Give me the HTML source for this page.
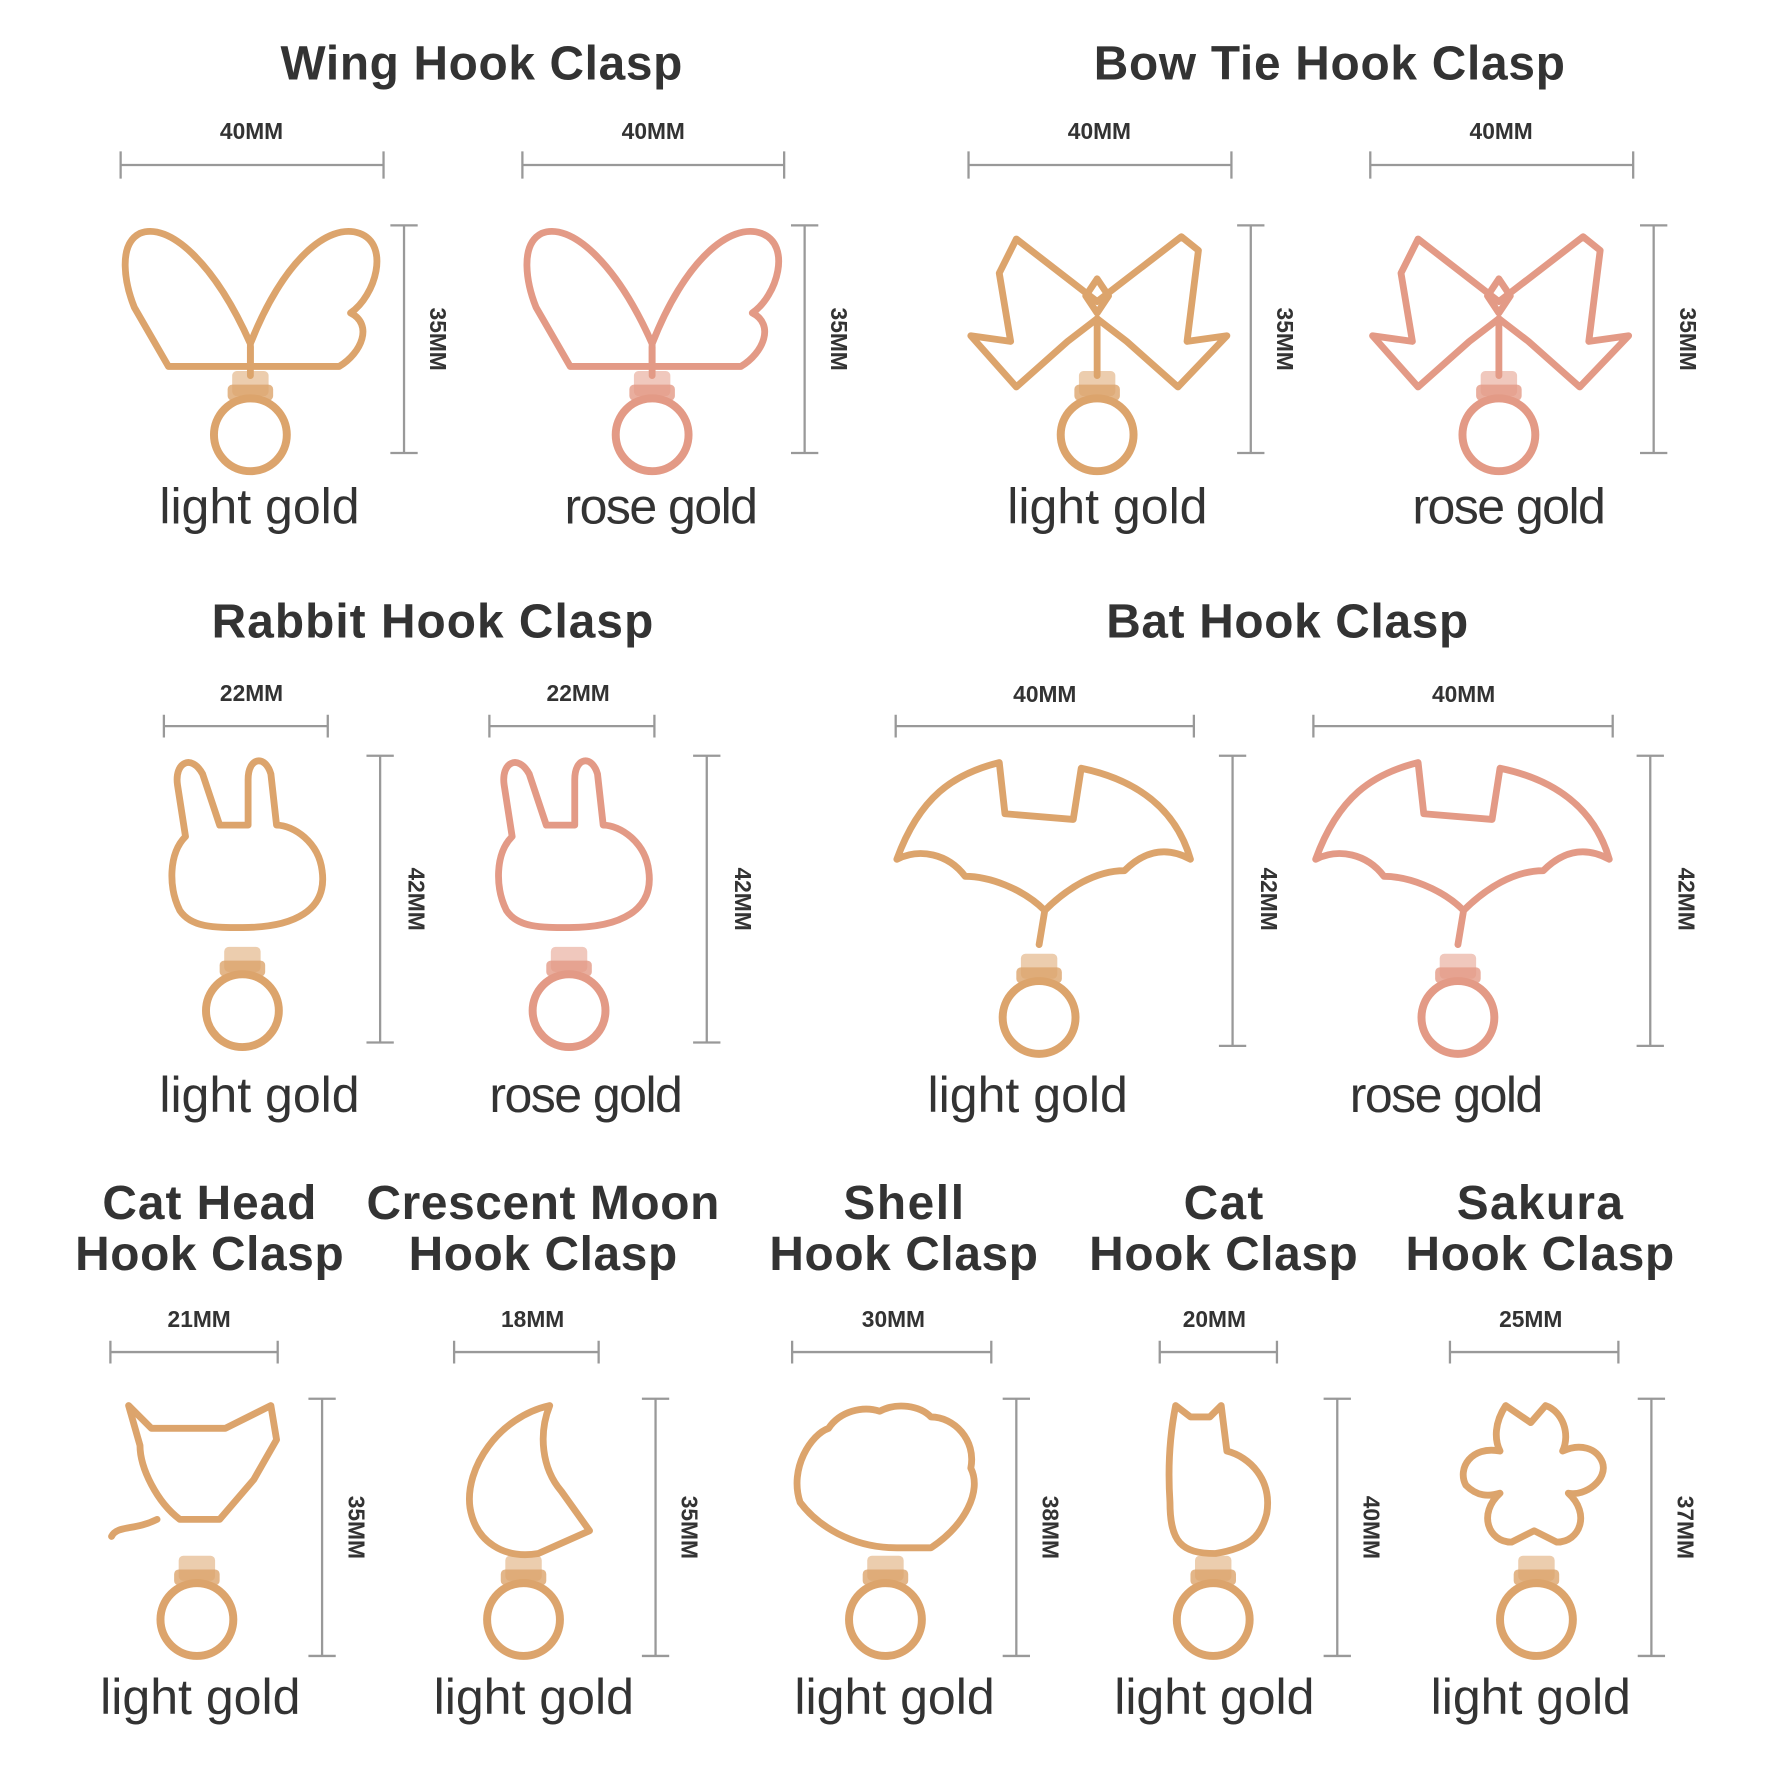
<!DOCTYPE html>
<html><head><meta charset="utf-8"><style>
html,body{margin:0;padding:0;background:#fff;}
svg{display:block;}
.t{font-family:"Liberation Sans",sans-serif;font-weight:bold;fill:#333;font-size:42px;text-anchor:middle;}
.d{font-family:"Liberation Sans",sans-serif;font-weight:bold;fill:#333;font-size:20px;text-anchor:middle;}
.l{font-family:"Liberation Sans",sans-serif;fill:#333;font-size:44px;text-anchor:middle;}
.dl{stroke:#999;stroke-width:2;fill:none;}
.lg{stroke:#dca46c;fill:none;stroke-width:6;stroke-linejoin:round;stroke-linecap:round;}
.rg{stroke:#e39a86;fill:none;stroke-width:6;stroke-linejoin:round;stroke-linecap:round;}
</style></head><body>
<svg width="1780" height="1780" viewBox="2 0 1564 1564" xmlns="http://www.w3.org/2000/svg">
<defs>
<g id="sw"><rect x="-16" y="-18" width="32" height="22" rx="4" fill="currentColor" opacity="0.55"/><rect x="-20" y="-6" width="40" height="14" rx="4" fill="currentColor" opacity="0.8"/><circle cx="0" cy="38" r="32" fill="none" stroke="currentColor" stroke-width="7"/></g>
</defs>
<text class="t" x="425" y="70" textLength="353">Wing Hook Clasp</text>
<text class="t" x="1170" y="70" textLength="414">Bow Tie Hook Clasp</text>
<text class="t" x="382" y="560" textLength="388">Rabbit Hook Clasp</text>
<text class="t" x="1133" y="560" textLength="318">Bat Hook Clasp</text>
<text class="t" x="186" y="1071" textLength="188">Cat Head</text><text class="t" x="186" y="1116" textLength="236">Hook Clasp</text>
<text class="t" x="479" y="1071" textLength="310">Crescent Moon</text><text class="t" x="479" y="1116" textLength="236">Hook Clasp</text>
<text class="t" x="796" y="1071" textLength="106">Shell</text><text class="t" x="796" y="1116" textLength="236">Hook Clasp</text>
<text class="t" x="1077" y="1071" textLength="70">Cat</text><text class="t" x="1077" y="1116" textLength="236">Hook Clasp</text>
<text class="t" x="1355" y="1071" textLength="146">Sakura</text><text class="t" x="1355" y="1116" textLength="236">Hook Clasp</text>

<g class="dl">
<path d="M108 145H339M108 133V157M339 133V157"/>
<path d="M461 145H691M461 133V157M691 133V157"/>
<path d="M853 145H1084M853 133V157M1084 133V157"/>
<path d="M1206 145H1437M1206 133V157M1437 133V157"/>
<path d="M146 638H290M146 628V648M290 628V648"/>
<path d="M432 638H577M432 628V648M577 628V648"/>
<path d="M789 638H1051M789 628V648M1051 628V648"/>
<path d="M1156 638H1419M1156 628V648M1419 628V648"/>
<path d="M99 1188H246M99 1178V1198M246 1178V1198"/>
<path d="M401 1188H528M401 1178V1198M528 1178V1198"/>
<path d="M698 1188H873M698 1178V1198M873 1178V1198"/>
<path d="M1021 1188H1124M1021 1178V1198M1124 1178V1198"/>
<path d="M1276 1188H1424M1276 1178V1198M1424 1178V1198"/>
<path d="M357 198V398M345 198H369M345 398H369"/>
<path d="M709 198V398M697 198H721M697 398H721"/>
<path d="M1101 198V398M1089 198H1113M1089 398H1113"/>
<path d="M1455 198V398M1443 198H1467M1443 398H1467"/>
<path d="M336 664V916M324 664H348M324 916H348"/>
<path d="M623 664V916M611 664H635M611 916H635"/>
<path d="M1085 664V919M1073 664H1097M1073 919H1097"/>
<path d="M1452 664V919M1440 664H1464M1440 919H1464"/>
<path d="M285 1229V1455M273 1229H297M273 1455H297"/>
<path d="M578 1229V1455M566 1229H590M566 1455H590"/>
<path d="M895 1229V1455M883 1229H907M883 1455H907"/>
<path d="M1177 1229V1455M1165 1229H1189M1165 1455H1189"/>
<path d="M1453 1229V1455M1441 1229H1465M1441 1455H1465"/>
</g>
<g class="d">
<text x="223" y="122">40MM</text><text x="576" y="122">40MM</text><text x="968" y="122">40MM</text><text x="1321" y="122">40MM</text>
<text x="223" y="616">22MM</text><text x="510" y="616">22MM</text><text x="920" y="617">40MM</text><text x="1288" y="617">40MM</text>
<text x="177" y="1166">21MM</text><text x="470" y="1166">18MM</text><text x="787" y="1166">30MM</text><text x="1069" y="1166">20MM</text><text x="1347" y="1166">25MM</text>
<text transform="translate(380,298) rotate(90)">35MM</text>
<text transform="translate(732,298) rotate(90)">35MM</text>
<text transform="translate(1124,298) rotate(90)">35MM</text>
<text transform="translate(1478,298) rotate(90)">35MM</text>
<text transform="translate(361,790) rotate(90)">42MM</text>
<text transform="translate(648,790) rotate(90)">42MM</text>
<text transform="translate(1110,790) rotate(90)">42MM</text>
<text transform="translate(1477,790) rotate(90)">42MM</text>
<text transform="translate(308,1342) rotate(90)">35MM</text>
<text transform="translate(601,1342) rotate(90)">35MM</text>
<text transform="translate(918,1342) rotate(90)">38MM</text>
<text transform="translate(1200,1342) rotate(90)">40MM</text>
<text transform="translate(1476,1342) rotate(90)">37MM</text>
</g>
<g class="l">
<text x="230" y="460" textLength="176">light gold</text><text x="583" y="460" textLength="170">rose gold</text>
<text x="975" y="460" textLength="176">light gold</text><text x="1328" y="460" textLength="170">rose gold</text>
<text x="230" y="977" textLength="176">light gold</text><text x="517" y="977" textLength="170">rose gold</text>
<text x="905" y="977" textLength="176">light gold</text><text x="1273" y="977" textLength="170">rose gold</text>
<text x="178" y="1506" textLength="176">light gold</text><text x="471" y="1506" textLength="176">light gold</text>
<text x="788" y="1506" textLength="176">light gold</text><text x="1069" y="1506" textLength="176">light gold</text>
<text x="1347" y="1506" textLength="176">light gold</text>
</g>

<g class="lg"><path d="M222 302C190 230 150 195 125 205C105 215 112 250 120 270L150 322L222 322ZM222 302C250 230 290 195 318 205C345 215 332 260 310 275C330 285 320 310 300 322L222 322"/><path d="M222 305V330"/></g>
<use href="#sw" x="222" y="344" color="#dca46c"/>
<g class="rg"><path d="M575 302C543 230 503 195 478 205C458 215 465 250 473 270L503 322L575 322ZM575 302C603 230 643 195 671 205C698 215 685 260 663 275C683 285 673 310 653 322L575 322"/><path d="M575 305V330"/></g>
<use href="#sw" x="575" y="344" color="#e39a86"/>
<g class="lg"><path d="M966 265L895 210L880 240L890 300L855 295L895 340L940 300L966 280L992 300L1037 340L1080 295L1045 300L1055 220L1040 208L966 265Z"/><path d="M966 245L956 260L966 275L976 260Z M966 280V330"/></g>
<use href="#sw" x="966" y="344" color="#dca46c"/>
<g class="rg"><path d="M1319 265L1248 210L1233 240L1243 300L1208 295L1248 340L1293 300L1319 280L1345 300L1390 340L1433 295L1398 300L1408 220L1393 208L1319 265Z"/><path d="M1319 245L1309 260L1319 275L1329 260Z M1319 280V330"/></g>
<use href="#sw" x="1319" y="344" color="#e39a86"/>
<g class="lg"><path d="M195 725L180 680C170 662 155 670 158 690L165 735C150 750 150 780 160 800C170 815 190 815 215 815C260 815 290 800 285 765C282 740 260 725 245 725L240 680C235 663 220 665 220 685L220 725Z"/></g>
<use href="#sw" x="215" y="850" color="#dca46c"/>
<g class="rg"><path d="M482 725L467 680C457 662 442 670 445 690L452 735C437 750 437 780 447 800C457 815 477 815 502 815C547 815 577 800 572 765C569 740 547 725 532 725L527 680C522 663 507 665 507 685L507 725Z"/></g>
<use href="#sw" x="502" y="850" color="#e39a86"/>
<g class="lg"><path d="M790 755C810 700 840 680 880 670L885 715L945 720L952 675C1000 685 1035 710 1048 755C1030 745 1010 745 990 765C965 765 940 780 920 800C900 780 870 770 850 770C835 750 810 745 790 755Z M920 800L915 830"/></g>
<use href="#sw" x="915" y="856" color="#dca46c"/>
<g class="rg"><path d="M1158 755C1178 700 1208 680 1248 670L1253 715L1313 720L1320 675C1368 685 1403 710 1416 755C1398 745 1378 745 1358 765C1333 765 1308 780 1288 800C1268 780 1238 770 1218 770C1203 750 1178 745 1158 755Z M1288 800L1283 830"/></g>
<use href="#sw" x="1283" y="856" color="#e39a86"/>
<g class="lg">
<path d="M115 1235L135 1255H200L240 1235L245 1265L225 1300L195 1335H160C140 1320 125 1290 125 1270Z M140 1335C120 1345 105 1340 100 1350"/>
<path d="M485 1235C440 1245 410 1290 415 1325C420 1355 445 1370 475 1365L520 1345L495 1310C478 1290 475 1260 485 1235Z"/>
<path d="M790 1360C750 1360 720 1340 705 1320C695 1290 715 1260 730 1255C740 1240 760 1235 775 1240C790 1232 810 1235 820 1245C840 1245 860 1265 855 1290C865 1310 850 1340 820 1360Z"/>
<path d="M1035 1235L1048 1245H1065L1075 1235L1080 1275C1100 1280 1120 1300 1115 1330C1110 1350 1100 1360 1070 1365C1040 1365 1030 1355 1030 1320C1028 1290 1030 1260 1035 1235Z"/>
<path d="M1347 1250L1325 1235C1315 1250 1315 1265 1320 1275C1295 1270 1282 1290 1290 1305C1300 1315 1310 1315 1320 1312C1300 1330 1310 1355 1330 1355L1350 1345L1370 1355C1390 1355 1400 1330 1380 1312C1395 1315 1415 1300 1410 1285C1405 1272 1390 1268 1375 1275C1382 1260 1375 1240 1360 1235Z"/>
</g>
<use href="#sw" x="175" y="1385" color="#dca46c"/>
<use href="#sw" x="462" y="1385" color="#dca46c"/>
<use href="#sw" x="780" y="1385" color="#dca46c"/>
<use href="#sw" x="1068" y="1385" color="#dca46c"/>
<use href="#sw" x="1352" y="1385" color="#dca46c"/>
</svg>
</body></html>
